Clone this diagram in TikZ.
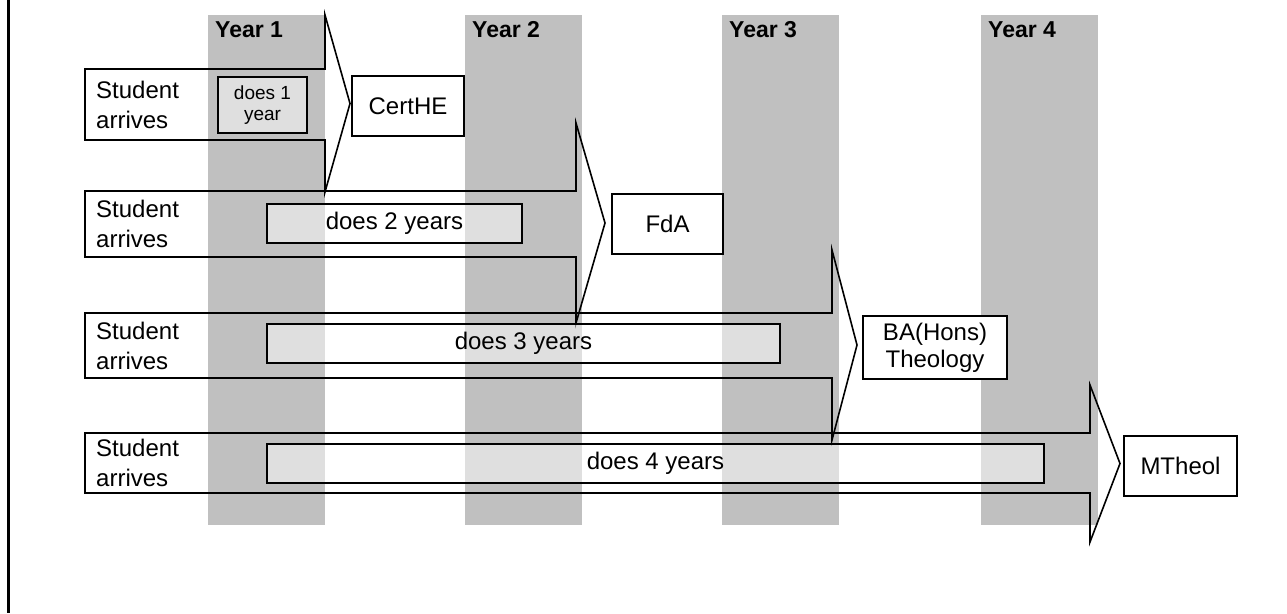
\documentclass[tikz,border=0pt]{standalone}
\usepackage{fontspec}
\setmainfont{Liberation Sans}
\definecolor{colgris}{RGB}{192,192,192}
\begin{document}
\begin{tikzpicture}[x=1pt,y=-1pt,
    texto/.style={font=\fontsize{24}{30}\selectfont,inner sep=0pt},
    premio/.style={texto,draw,line width=1.6pt,fill=white,align=center},
    duracion/.style={texto,draw,line width=1.6pt,fill=white,fill opacity=0.5,text opacity=1,align=center}]
    \useasboundingbox (0,0) rectangle (1287,613);

    % Linea del margen
    \draw[line width=3pt] (8,0) -- (8,613);

    % Columnas de los anios
    \foreach \x/\n in {208/1,465/2,722/3,981/4} {
        \fill[colgris] (\x,15) rectangle ++(117,510);
        \node[texto,font=\fontsize{23}{28}\selectfont\bfseries,anchor=base west] (anio\n) at (\x+7,37) {Year \n};
    }

    % Flechas de cada recorrido
    \foreach \t/\b/\ht/\hb/\nx/\tx in {69/140/15/192/325/350, 191/257/123/323/576/605,
                                       313/378/250/440/832/857, 433/493/385/542/1090/1120} {
        \draw[line width=1.6pt,line join=miter]
            (85,\t) -- (\nx,\t) -- (\nx,\ht) -- (\tx,{(\ht+\hb)/2}) -- (\nx,\hb) -- (\nx,\b) -- (85,\b) -- cycle;
    }

    % Llegada del estudiante
    \foreach \y/\n in {104.5/1,224/2,345.5/3,463/4} {
        \node[texto,anchor=west,align=left] (llega\n) at (96,\y) {Student\\arrives};
    }

    % Duracion de los estudios
    \node[duracion,font=\fontsize{19}{21.5}\selectfont,minimum width=89pt,minimum height=56pt] (dura1) at (262.5,105) {does 1\\year};
    \node[duracion,minimum width=255pt,minimum height=39pt] (dura2) at (394.5,223.5) {does 2 years};
    \node[duracion,minimum width=513pt,minimum height=39pt] (dura3) at (523.5,343.5) {does 3 years};
    \node[duracion,minimum width=777pt,minimum height=39pt] (dura4) at (655.5,463.5) {does 4 years};

    % Titulos obtenidos
    \node[premio,minimum width=112pt,minimum height=60pt] (cert) at (408,106) {CertHE};
    \node[premio,minimum width=111pt,minimum height=60pt] (fda) at (667.5,224) {FdA};
    \node[premio,font=\fontsize{24}{27}\selectfont,minimum width=144pt,minimum height=63pt] (ba) at (935,347.5) {BA(Hons)\\Theology};
    \node[premio,minimum width=113pt,minimum height=60pt] (mth) at (1180.5,466) {MTheol};
\end{tikzpicture}
\end{document}
